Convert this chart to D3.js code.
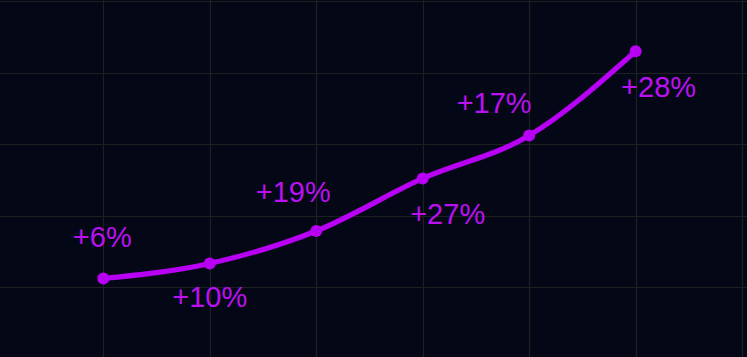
<!DOCTYPE html>
<html>
<head>
<meta charset="utf-8">
<script src="https://cdn.jsdelivr.net/npm/d3@7"></script>
<style>
  html, body { margin: 0; padding: 0; background: #040816; overflow: hidden; }
  svg { display: block; }
</style>
</head>
<body>
<svg id="chart" width="747" height="357"></svg>
<script>
// ---- data ----
const categories = [0, 1, 2, 3, 4, 5];
const values = [22.4, 26.6, 35.7, 50.4, 62.4, 86.0];
const growthLabels = ["+6%", "+10%", "+19%", "+27%", "+17%", "+28%"];
const yTicks = [20, 40, 60, 80, 100];
const xGrid = [-1, 0, 1, 2, 3, 4, 5, 6];

// ---- layout ----
const W = 747, H = 357;
const labelOffsets = [[-1, -31], [0, 44], [-23, -29], [25, 46], [-35, -23], [23, 46]];

const svg = d3.select("#chart");
svg.append("rect").attr("width", W).attr("height", H).attr("fill", "#040816");

const x = d3.scaleLinear().domain([0, 5]).range([103.3, 635.6]);
const y = d3.scaleLinear().domain([0, 100]).range([358.5, 1.3]);

const grid = svg.append("g").attr("stroke", "#1d2023").attr("stroke-width", 1.2);
grid.selectAll("line.h").data(yTicks).join("line")
  .attr("class", "h")
  .attr("x1", 0).attr("x2", W)
  .attr("y1", d => Math.round(y(d)) + 0.5).attr("y2", d => Math.round(y(d)) + 0.5);
grid.selectAll("line.v").data(xGrid).join("line")
  .attr("class", "v")
  .attr("y1", 0).attr("y2", H)
  .attr("x1", d => Math.round(x(d)) + 0.5).attr("x2", d => Math.round(x(d)) + 0.5);

const color = "#b800f5";
const textColor = "#bb10f0";
const pts = categories.map((c, i) => ({ c, v: values[i], label: growthLabels[i], off: labelOffsets[i] }));

const line = d3.line().x(d => x(d.c)).y(d => y(d.v)).curve(d3.curveMonotoneX);
svg.append("path").datum(pts)
  .attr("d", line)
  .attr("fill", "none")
  .attr("stroke", color)
  .attr("stroke-width", 5.2)
  .attr("stroke-linecap", "round")
  .attr("stroke-linejoin", "round");

svg.selectAll("circle.pt").data(pts).join("circle")
  .attr("class", "pt")
  .attr("cx", d => x(d.c)).attr("cy", d => y(d.v))
  .attr("r", 6)
  .attr("fill", color);

svg.selectAll("text.lbl").data(pts).join("text")
  .attr("class", "lbl")
  .attr("x", d => x(d.c) + d.off[0])
  .attr("y", d => y(d.v) + d.off[1])
  .attr("text-anchor", "middle")
  .attr("font-family", "'Liberation Sans', Arial, sans-serif")
  .attr("font-size", 29)
  .attr("fill", textColor)
  .text(d => d.label);
</script>
</body>
</html>
